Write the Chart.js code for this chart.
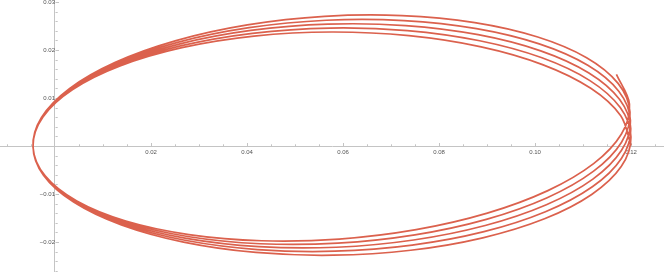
<!DOCTYPE html>
<html><head><meta charset="utf-8">
<script src="https://cdn.jsdelivr.net/npm/chart.js@4.4.1/dist/chart.umd.min.js"></script>
<style>html,body{margin:0;padding:0;background:#fff;}canvas{display:block;}</style>
</head><body>
<canvas id="c" width="664" height="272"></canvas>
<script>
// Orbit, one array pair per turn (x, y in plot units)
const turn1X = [0.12000, 0.11786, 0.11162, 0.10170, 0.08878, 0.07373, 0.05759, 0.04146, 0.02644, 0.01355, 0.00368, -0.00251, -0.00458, -0.00240, 0.00388, 0.01383, 0.02679, 0.04185, 0.05799, 0.07411, 0.08912, 0.10198, 0.11181, 0.11796];
const turn1Y = [0.00017, 0.00631, 0.01202, 0.01691, 0.02065, 0.02298, 0.02375, 0.02289, 0.02048, 0.01668, 0.01176, 0.00605, -0.00004, -0.00609, -0.01169, -0.01645, -0.02002, -0.02218, -0.02275, -0.02172, -0.01913, -0.01517, -0.01010, -0.00429];
const turn2X = [0.11999, 0.11776, 0.11144, 0.10145, 0.08847, 0.07339, 0.05725, 0.04113, 0.02614, 0.01331, 0.00351, -0.00260, -0.00458, -0.00232, 0.00405, 0.01407, 0.02707, 0.04216, 0.05831, 0.07442, 0.08938, 0.10218, 0.11195, 0.11800];
const turn2Y = [0.00189, 0.00800, 0.01362, 0.01837, 0.02192, 0.02404, 0.02457, 0.02348, 0.02085, 0.01687, 0.01181, 0.00601, -0.00010, -0.00613, -0.01164, -0.01625, -0.01964, -0.02157, -0.02192, -0.02065, -0.01785, -0.01370, -0.00850, -0.00260];
const turn3X = [0.11995, 0.11764, 0.11123, 0.10118, 0.08815, 0.07304, 0.05689, 0.04079, 0.02584, 0.01306, 0.00334, -0.00268, -0.00458, -0.00223, 0.00421, 0.01430, 0.02735, 0.04246, 0.05862, 0.07471, 0.08963, 0.10237, 0.11206, 0.11803];
const turn3Y = [0.00361, 0.00968, 0.01521, 0.01982, 0.02319, 0.02509, 0.02539, 0.02407, 0.02123, 0.01706, 0.01186, 0.00598, -0.00017, -0.00616, -0.01158, -0.01604, -0.01925, -0.02097, -0.02109, -0.01958, -0.01656, -0.01224, -0.00690, -0.00090];
const turn4X = [0.11988, 0.11749, 0.11100, 0.10088, 0.08781, 0.07268, 0.05652, 0.04044, 0.02553, 0.01282, 0.00317, -0.00277, -0.00458, -0.00214, 0.00438, 0.01453, 0.02762, 0.04276, 0.05891, 0.07498, 0.08986, 0.10254, 0.11214, 0.11803];
const turn4Y = [0.00533, 0.01137, 0.01681, 0.02127, 0.02445, 0.02613, 0.02620, 0.02465, 0.02160, 0.01725, 0.01190, 0.00594, -0.00024, -0.00619, -0.01151, -0.01584, -0.01885, -0.02036, -0.02024, -0.01851, -0.01528, -0.01077, -0.00529, 0.00079];
const turn5X = [0.11979, 0.11731, 0.11075, 0.10057, 0.08745, 0.07229, 0.05614, 0.04008, 0.02522, 0.01257, 0.00300, -0.00285, -0.00457, -0.00205, 0.00454, 0.01475, 0.02789, 0.04305, 0.05920, 0.07524, 0.09007, 0.10268, 0.11221, 0.11801];
const turn5Y = [0.00705, 0.01305, 0.01840, 0.02271, 0.02571, 0.02717, 0.02701, 0.02523, 0.02196, 0.01743, 0.01195, 0.00590, -0.00030, -0.00622, -0.01145, -0.01563, -0.01845, -0.01974, -0.01939, -0.01743, -0.01399, -0.00930, -0.00368, 0.00249];
const tailX = [0.11968, 0.11696];
const tailY = [0.00876, 0.01491];

const xTickValues = [0.02, 0.04, 0.06, 0.08, 0.10, 0.12];
const xTickLabels = ['0.02', '0.04', '0.06', '0.08', '0.10', '0.12'];
const yTickValues = [-0.02, -0.01, 0.01, 0.02, 0.03];
const yTickLabels = ['\u22120.02', '\u22120.01', '0.01', '0.02', '0.03'];

const allX = [].concat(turn1X, turn2X, turn3X, turn4X, turn5X, tailX);
const allY = [].concat(turn1Y, turn2Y, turn3Y, turn4Y, turn5Y, tailY);
const points = allX.map((x, i) => ({x: x, y: allY[i]}));

const AXIS = '#c4c4c4';
const LABEL = '#555555';

const minorTicks = {
  id: 'minorTicks',
  beforeDatasetsDraw(chart) {
    const {ctx, scales: {x, y}} = chart;
    const x0 = Math.round(x.getPixelForValue(0)) + 0.5;
    const y0 = Math.round(y.getPixelForValue(0)) + 0.5;
    ctx.save();
    ctx.strokeStyle = AXIS;
    ctx.lineWidth = 1;
    ctx.beginPath();
    for (let i = -2; i <= 25; i++) {
      if (i === 0) continue;
      const px = Math.round(x.getPixelForValue(i * 0.005)) + 0.5;
      const len = (i % 4 === 0) ? 3.5 : 2.2;
      ctx.moveTo(px, y0); ctx.lineTo(px, y0 - len);
    }
    for (let i = -13; i <= 15; i++) {
      if (i === 0) continue;
      const py = Math.round(y.getPixelForValue(i * 0.002)) + 0.5;
      const len = (i % 5 === 0) ? 3.5 : 2.2;
      ctx.moveTo(x0, py); ctx.lineTo(x0 + len, py);
    }
    ctx.stroke();
    ctx.restore();
  }
};

const zeroPad = (s) => { s.paddingTop = 0; s.paddingBottom = 0; s.paddingLeft = 0; s.paddingRight = 0; };

new Chart(document.getElementById('c'), {
  type: 'scatter',
  data: {
    datasets: [{
      data: points,
      showLine: true,
      borderColor: 'rgb(219,97,77)',
      borderWidth: 1.7,
      pointRadius: 0,
      tension: 0.33,
      fill: false
    }]
  },
  options: {
    responsive: false,
    animation: false,
    events: [],
    layout: {padding: 0},
    plugins: {legend: {display: false}, tooltip: {enabled: false}, title: {display: false}},
    scales: {
      x: {
        type: 'linear',
        min: -0.011458, max: 0.126875,
        position: {y: 0},
        grid: {display: false, tickLength: 0},
        border: {display: true, color: AXIS, width: 1},
        afterBuildTicks: (s) => { s.ticks = xTickValues.map(v => ({value: v})); },
        afterFit: zeroPad,
        ticks: {
          autoSkip: false, maxRotation: 0, padding: 3,
          color: LABEL,
          font: {family: 'Liberation Sans, Arial, sans-serif', size: 6},
          callback: (v) => xTickLabels[xTickValues.findIndex(t => Math.abs(t - v) < 1e-9)]
        }
      },
      y: {
        type: 'linear',
        min: -0.02625, max: 0.030417,
        position: {x: 0},
        grid: {display: false},
        border: {display: true, color: AXIS, width: 1},
        afterBuildTicks: (s) => { s.ticks = yTickValues.map(v => ({value: v})); },
        afterFit: zeroPad,
        ticks: {
          autoSkip: false, padding: 3,
          color: LABEL,
          font: {family: 'Liberation Sans, Arial, sans-serif', size: 6},
          callback: (v) => yTickLabels[yTickValues.findIndex(t => Math.abs(t - v) < 1e-9)]
        }
      }
    }
  },
  plugins: [minorTicks]
});
</script>
</body></html>
